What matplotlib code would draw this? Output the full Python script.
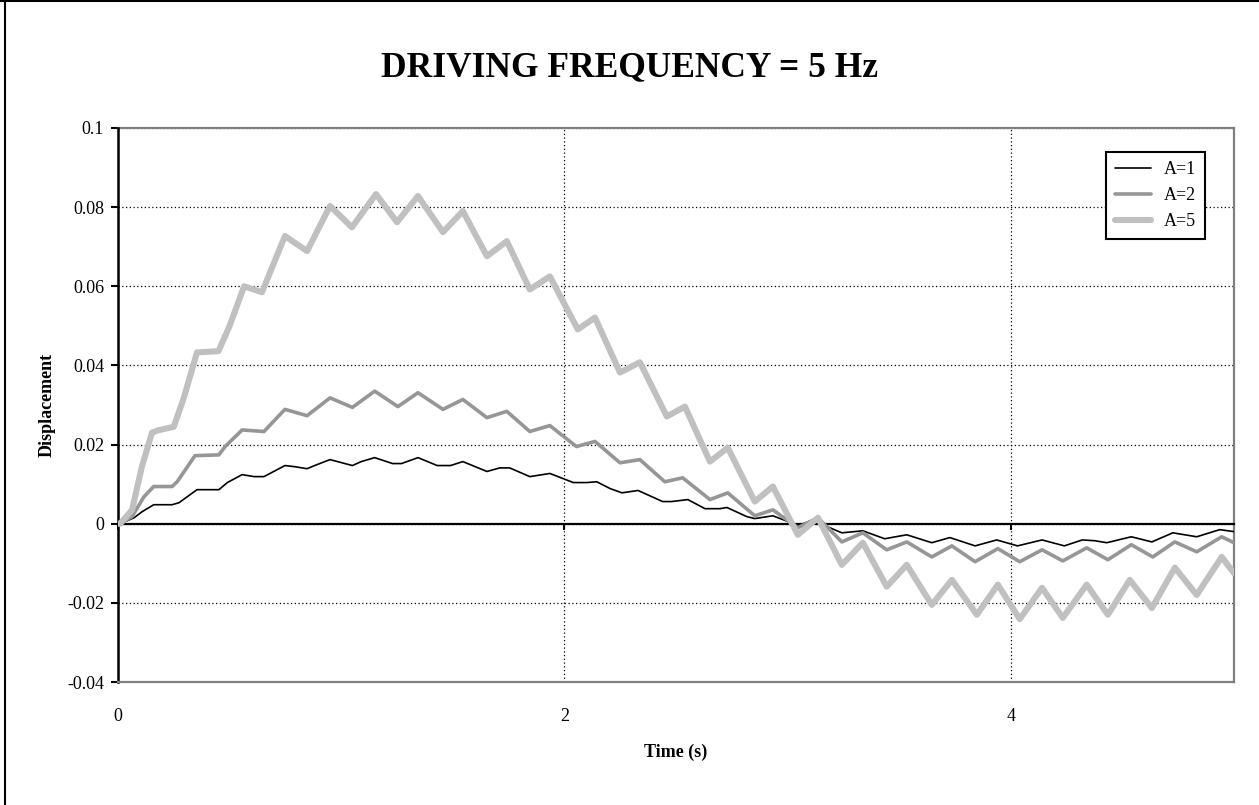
import matplotlib
matplotlib.use("Agg")
import matplotlib.pyplot as plt
from matplotlib.lines import Line2D

plt.rcParams['font.family'] = ['Liberation Serif', 'DejaVu Serif']

# values (turning points of each trace)
t_a1 = [0, 0.01, 0.072, 0.107, 0.16, 0.242, 0.273, 0.354, 0.452, 0.49,
        0.556, 0.61, 0.654, 0.748, 0.793, 0.847, 0.89, 0.95, 1.05, 1.09,
        1.15, 1.23, 1.27, 1.344, 1.43, 1.49, 1.545, 1.653, 1.71, 1.755,
        1.845, 1.935, 2.04, 2.10, 2.145, 2.204, 2.258, 2.33, 2.44, 2.48,
        2.553, 2.63, 2.697, 2.728, 2.817, 2.853, 2.934, 2.99, 3.046, 3.13,
        3.18, 3.243, 3.337, 3.435, 3.534, 3.646, 3.727, 3.84, 3.937, 4.03,
        4.14, 4.24, 4.32, 4.376, 4.43, 4.54, 4.632, 4.726, 4.833, 4.936, 5.0]
d_a1 = [0, 0, 0.0015, 0.003, 0.0048, 0.0048, 0.0053, 0.0086, 0.0086, 0.0104,
        0.0124, 0.0119, 0.0119, 0.0147, 0.0144, 0.0139, 0.0149, 0.0162, 0.0147, 0.0157,
        0.0167, 0.0152, 0.0152, 0.0167, 0.0147, 0.0147, 0.0157, 0.0132, 0.0141, 0.0141,
        0.0119, 0.0127, 0.0104, 0.0104, 0.0106, 0.0089, 0.0078, 0.0084, 0.0056, 0.0056,
        0.0061, 0.0038, 0.0038, 0.0041, 0.0018, 0.0013, 0.002, 0.0008, -0.0005, 0.0013,
        -0.0008, -0.0023, -0.0018, -0.0038, -0.0028, -0.0048, -0.0035, -0.0056, -0.0041, -0.0056,
        -0.0041, -0.0056, -0.0041, -0.0043, -0.0048, -0.0033, -0.0046, -0.0023, -0.0033, -0.0015, -0.002]

t_a2 = [0, 0.01, 0.063, 0.116, 0.16, 0.242, 0.265, 0.345, 0.452, 0.48,
        0.556, 0.654, 0.748, 0.847, 0.95, 1.05, 1.15, 1.254, 1.344, 1.456,
        1.545, 1.653, 1.742, 1.845, 1.935, 2.054, 2.137, 2.249, 2.338, 2.45,
        2.53, 2.652, 2.732, 2.853, 2.934, 3.046, 3.136, 3.243, 3.337, 3.444,
        3.534, 3.646, 3.736, 3.84, 3.942, 4.04, 4.14, 4.233, 4.34, 4.435,
        4.54, 4.636, 4.735, 4.833, 4.945, 5.0]
d_a2 = [0, 0, 0.0018, 0.0068, 0.0094, 0.0094, 0.0106, 0.0172, 0.0174, 0.0195,
        0.0237, 0.0233, 0.0289, 0.0273, 0.0318, 0.0294, 0.0335, 0.0296, 0.0331, 0.0289,
        0.0314, 0.0268, 0.0284, 0.0233, 0.0248, 0.0195, 0.0208, 0.0154, 0.0162, 0.0106,
        0.0116, 0.0061, 0.0078, 0.002, 0.0035, -0.001, 0.0015, -0.0046, -0.0023, -0.0066,
        -0.0046, -0.0084, -0.0056, -0.0096, -0.0063, -0.0096, -0.0066, -0.0094, -0.0061, -0.0091,
        -0.0053, -0.0084, -0.0046, -0.0071, -0.0033, -0.0048]

t_a5 = [0, 0.01, 0.063, 0.107, 0.152, 0.18, 0.25, 0.296, 0.354, 0.45,
        0.50, 0.565, 0.645, 0.748, 0.847, 0.95, 1.048, 1.156, 1.25, 1.344,
        1.456, 1.545, 1.653, 1.742, 1.845, 1.935, 2.06, 2.137, 2.249, 2.338,
        2.459, 2.54, 2.652, 2.732, 2.853, 2.934, 3.046, 3.136, 3.243, 3.337,
        3.444, 3.534, 3.646, 3.736, 3.848, 3.942, 4.04, 4.14, 4.233, 4.34,
        4.435, 4.533, 4.632, 4.735, 4.833, 4.945, 5.0]
d_a5 = [0, 0, 0.0035, 0.0144, 0.023, 0.0236, 0.0245, 0.032, 0.0433, 0.0436,
        0.050, 0.060, 0.0585, 0.0727, 0.0689, 0.0803, 0.0749, 0.0833, 0.0762, 0.0828,
        0.0737, 0.079, 0.0676, 0.0714, 0.0592, 0.0625, 0.0491, 0.0521, 0.0382, 0.0408,
        0.0271, 0.0296, 0.0157, 0.0192, 0.0056, 0.0094, -0.0028, 0.0015, -0.0104, -0.0048,
        -0.0159, -0.0104, -0.0205, -0.0142, -0.023, -0.0154, -0.0241, -0.0162, -0.0238, -0.0154,
        -0.023, -0.0142, -0.0213, -0.0111, -0.018, -0.0084, -0.0125]

x_ticks = [0, 2, 4]
y_ticks = [-0.04, -0.02, 0, 0.02, 0.04, 0.06, 0.08, 0.1]
y_labels = ['-0.04', '-0.02', '0', '0.02', '0.04', '0.06', '0.08', '0.1']

fig = plt.figure(figsize=(12.59, 8.05), dpi=100)
ax = fig.add_axes([118 / 1259, 1 - 682 / 805, 1116 / 1259, 554 / 805])

ax.plot(t_a1, d_a1, color='black', lw=1.2, label='A=1', zorder=3,
        solid_joinstyle='round', solid_capstyle='round')
ax.plot(t_a2, d_a2, color='#969696', lw=2.6, label='A=2', zorder=3,
        solid_joinstyle='round', solid_capstyle='round')
ax.plot(t_a5, d_a5, color='#c0c0c0', lw=4.4, label='A=5', zorder=3,
        solid_joinstyle='round', solid_capstyle='round')

ax.set_xlim(0, 5)
ax.set_ylim(-0.04, 0.1)
ax.set_xticks(x_ticks)
ax.set_xticklabels([str(v) for v in x_ticks])
ax.set_yticks(y_ticks)
ax.set_yticklabels(y_labels)

ax.grid(True, color='black', linestyle=(0, (1, 2)), linewidth=0.9)

# zero axis with ticks, plot area frame in grey
ax.spines['top'].set_position(('data', 0))
ax.spines['top'].set_color('black')
ax.spines['top'].set_linewidth(1.6)
ax.spines['left'].set_color('black')
ax.spines['left'].set_linewidth(1.8)
for s in ['bottom', 'right']:
    ax.spines[s].set_color('#808080')
    ax.spines[s].set_linewidth(1.6)
ax.plot([0, 1], [1, 1], transform=ax.transAxes, color='#808080', lw=1.6,
        clip_on=False, zorder=2.5)

ax.tick_params(axis='x', which='both', top=True, bottom=False, labeltop=False,
               labelbottom=True, direction='in', length=4, width=1.5, pad=19,
               labelsize=13)
ax.tick_params(axis='y', direction='out', length=5, width=1.5, pad=5, labelsize=13)

ax.set_xlabel('Time (s)', fontsize=13, fontweight='bold', labelpad=13)
ax.set_ylabel('Displacement', fontsize=13, fontweight='bold', labelpad=8)

fig.text(0.5, 1 - 68 / 805, 'DRIVING FREQUENCY = 5 Hz', ha='center', va='center',
         fontsize=25.5, fontweight='bold')

leg = ax.legend(loc='upper right', bbox_to_anchor=(0.974, 0.957), borderaxespad=0,
                fontsize=13, frameon=True, fancybox=False, framealpha=1,
                edgecolor='black', handlelength=2.0, handletextpad=0.7,
                labelspacing=0.5, borderpad=0.5)
leg.get_frame().set_linewidth(1.5)

# outer chart border
fig.add_artist(Line2D([4.5 / 1259, 4.5 / 1259], [0, 1], color='black', lw=1.5))
fig.add_artist(Line2D([0, 1], [1 - 1.5 / 805, 1 - 1.5 / 805], color='black', lw=1.5))

fig.savefig('out.png', dpi=100)
